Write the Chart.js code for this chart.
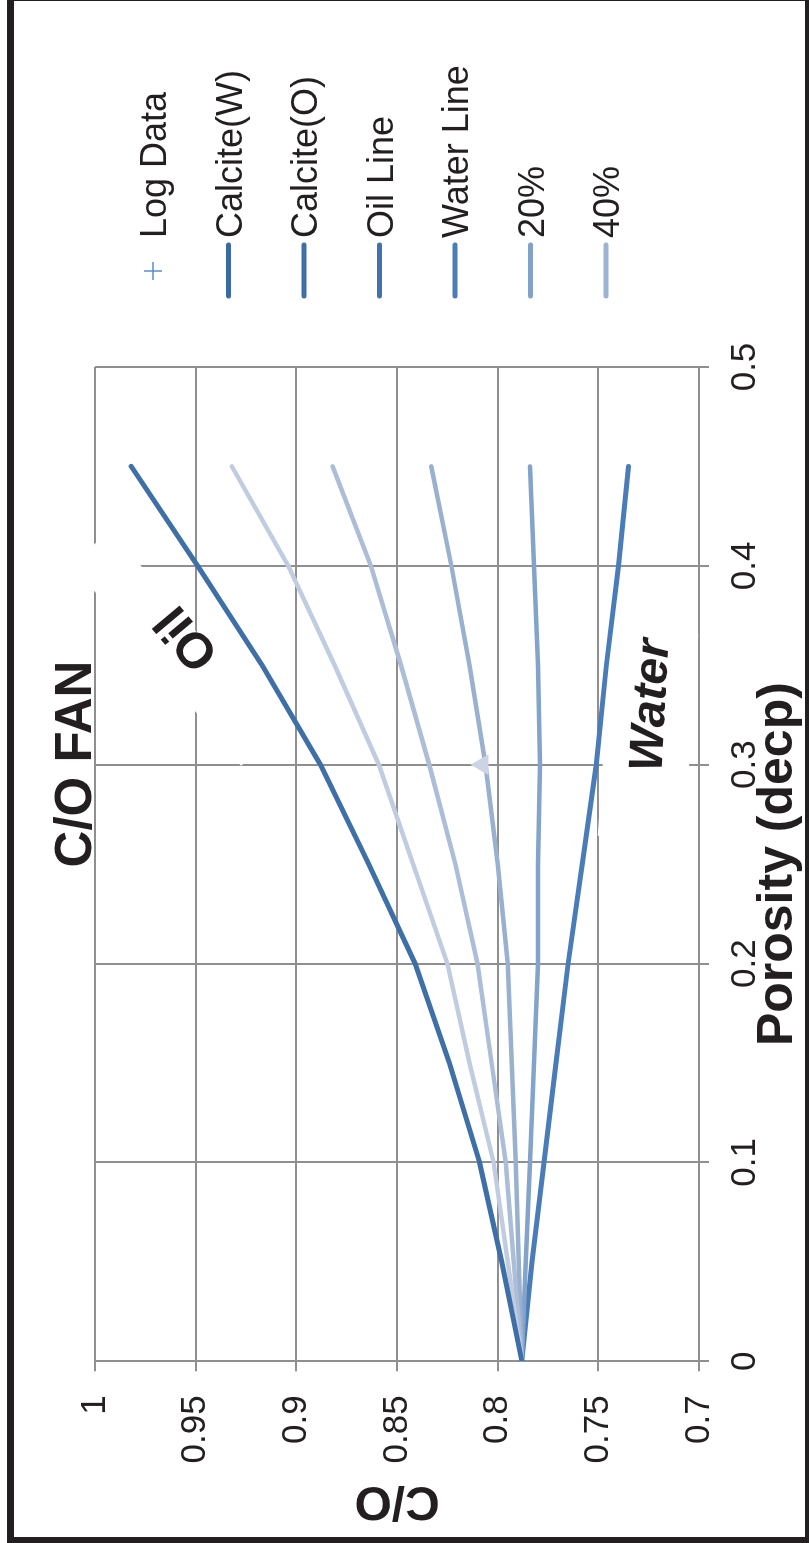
<!DOCTYPE html>
<html>
<head>
<meta charset="utf-8">
<script src="https://cdn.jsdelivr.net/npm/chart.js@4.4.1/dist/chart.umd.min.js"></script>
<style>
  html, body { margin: 0; padding: 0; background: #fff; }
  body { width: 809px; height: 1543px; position: relative; overflow: hidden; }
  /* chart is drawn upright and turned a quarter turn to the left */
  #turn { position: absolute; left: 0; top: 0; width: 1543px; height: 809px;
          transform-origin: 0 0; transform: translate(0, 1543px) rotate(-90deg); }
  .frame { position: absolute; background: #231f20; }
</style>
</head>
<body>
<div id="turn"><canvas id="fan" width="1543" height="809"></canvas></div>
<div class="frame" style="left:7px;top:0;width:7px;height:1543px"></div>
<div class="frame" style="left:7px;top:1537px;width:802px;height:6px"></div>
<div class="frame" style="left:805px;top:0;width:4px;height:1543px"></div>
<div class="frame" style="left:7px;top:0;width:802px;height:1px"></div>
<script>
const porosity  = [0, 0.05, 0.1, 0.15, 0.2, 0.25, 0.3, 0.35, 0.4, 0.45];
const oilLine   = [0.788, 0.798, 0.809, 0.824, 0.841, 0.864, 0.888, 0.917, 0.949, 0.982];
const oil80     = [0.788, 0.795, 0.802, 0.814, 0.825, 0.842, 0.859, 0.881, 0.904, 0.932];
const oil60     = [0.788, 0.792, 0.796, 0.803, 0.810, 0.821, 0.834, 0.848, 0.863, 0.882];
const oil40     = [0.788, 0.7895, 0.791, 0.793, 0.795, 0.800, 0.806, 0.814, 0.823, 0.833];
const oil20     = [0.788, 0.786, 0.784, 0.782, 0.780, 0.780, 0.779, 0.780, 0.782, 0.784];
const waterLine = [0.788, 0.783, 0.777, 0.771, 0.765, 0.758, 0.751, 0.746, 0.740, 0.735];

const markerPorosity = [0.3];
const markerCO = [0.8075];

const porosityTicks = [0, 0.1, 0.2, 0.3, 0.4, 0.5];
const coTicks = [0.7, 0.75, 0.8, 0.85, 0.9, 0.95, 1];

const legendNames  = ['Log Data', 'Calcite(W)', 'Calcite(O)', 'Oil Line', 'Water Line', '20%', '40%'];
const legendColors = ['#5c8bd1', '#3b6a9e', '#3f6fa6', '#4172ab', '#4a7db7', '#84a2c9', '#9cb3d2'];

const FONT = "'Liberation Sans', Arial, sans-serif";
const INK = '#231f20';
const GRID = '#8f8f8f';

function pts(ys) {
    return porosity.map((p, i) => ({x: p, y: ys[i]}));
}

function fmt(v) {
    return String(Number(v.toFixed(2)));
}

// white boxes behind the labels, then the labels, title and legend
const extras = {
    id: 'extras',
    beforeDatasetsDraw(chart) {
        const ctx = chart.ctx;
        ctx.save();
        ctx.fillStyle = '#fff';
        ctx.translate(895, 176);
        ctx.rotate(-40 * Math.PI / 180);
        ctx.fillRect(-132, -26, 264, 52);
        ctx.restore();

        ctx.save();
        ctx.fillStyle = '#fff';
        ctx.translate(808, 648);
        ctx.rotate(4 * Math.PI / 180);
        ctx.fillRect(-104, -43, 208, 86);
        ctx.restore();
    },
    afterDraw(chart) {
        const ctx = chart.ctx;
        ctx.save();
        ctx.fillStyle = INK;

        ctx.font = 'bold 51px ' + FONT;
        ctx.textAlign = 'center';
        ctx.textBaseline = 'alphabetic';
        ctx.fillText('C/O FAN', 779, 91);

        ctx.save();
        ctx.translate(903, 185);
        ctx.rotate(-40 * Math.PI / 180);
        ctx.font = 'bold 50px ' + FONT;
        ctx.fillText('Oil', 0, 18);
        ctx.restore();

        ctx.save();
        ctx.translate(837, 665);
        ctx.rotate(3 * Math.PI / 180);
        ctx.font = 'italic bold 48px ' + FONT;
        ctx.fillText('Water', 0, 0);
        ctx.restore();

        // legend
        ctx.textAlign = 'left';
        ctx.font = '36px ' + FONT;
        legendNames.forEach((name, i) => {
            const y = 153 + i * 75.5;
            ctx.strokeStyle = legendColors[i];
            if (i === 0) {
                ctx.lineWidth = 1.5;
                ctx.beginPath();
                ctx.moveTo(1263, y); ctx.lineTo(1281, y);
                ctx.moveTo(1272, y - 9); ctx.lineTo(1272, y + 9);
                ctx.stroke();
            } else {
                ctx.lineWidth = 5;
                ctx.lineCap = 'round';
                ctx.beginPath();
                ctx.moveTo(1247, y); ctx.lineTo(1298, y);
                ctx.stroke();
            }
            ctx.fillStyle = INK;
            ctx.fillText(name, 1305, y + 13);
        });
        ctx.restore();
    }
};

const lineSet = (label, ys, color, width) => ({
    label: label,
    data: pts(ys),
    borderColor: color,
    backgroundColor: color,
    borderWidth: width,
    pointRadius: 0,
    tension: 0,
    borderCapStyle: 'round',
    fill: false
});

new Chart(document.getElementById('fan').getContext('2d'), {
    type: 'line',
    data: {
        datasets: [
            {
                label: 'marker',
                data: markerPorosity.map((p, i) => ({x: p, y: markerCO[i]})),
                showLine: false,
                pointStyle: 'triangle',
                pointRadius: 12,
                pointBackgroundColor: '#cbd3e5',
                pointBorderWidth: 0
            },
            lineSet('Oil Line', oilLine, '#3e6fa6', 5),
            lineSet('80%', oil80, '#c0cde0', 4.5),
            lineSet('60%', oil60, '#abbdd7', 4.5),
            lineSet('40%', oil40, '#9ab0cf', 4.5),
            lineSet('20%', oil20, '#84a3ca', 4.5),
            lineSet('Water Line', waterLine, '#4a7db8', 5)
        ]
    },
    options: {
        responsive: false,
        animation: false,
        devicePixelRatio: 1,
        layout: {padding: {left: 14, top: 95, right: 367, bottom: 1}},
        plugins: {
            legend: {display: false},
            tooltip: {enabled: false}
        },
        scales: {
            x: {
                type: 'linear',
                min: 0,
                max: 0.5,
                afterBuildTicks: s => { s.ticks = porosityTicks.map(v => ({value: v})); },
                ticks: {
                    color: INK,
                    font: {family: FONT, size: 35},
                    padding: 15,
                    maxRotation: 0,
                    callback: v => fmt(v)
                },
                grid: {color: GRID, lineWidth: 2, tickLength: 10},
                border: {color: GRID, width: 2},
                title: {
                    display: true,
                    text: 'Porosity (decp)',
                    color: INK,
                    font: {family: FONT, size: 50, weight: 'bold'},
                    padding: {top: -33, bottom: 0}
                }
            },
            y: {
                type: 'linear',
                min: 0.7,
                max: 1,
                afterBuildTicks: s => { s.ticks = coTicks.map(v => ({value: v})); },
                ticks: {
                    color: INK,
                    font: {family: FONT, size: 35},
                    padding: 24,
                    callback: v => fmt(v)
                },
                grid: {color: GRID, lineWidth: 2, tickLength: 10},
                border: {color: GRID, width: 2},
                title: {
                    display: true,
                    text: 'C/O',
                    color: INK,
                    font: {family: FONT, size: 48, weight: 'bold'},
                    padding: {top: 0, bottom: -16}
                }
            }
        }
    },
    plugins: [extras]
});
</script>
</body>
</html>
